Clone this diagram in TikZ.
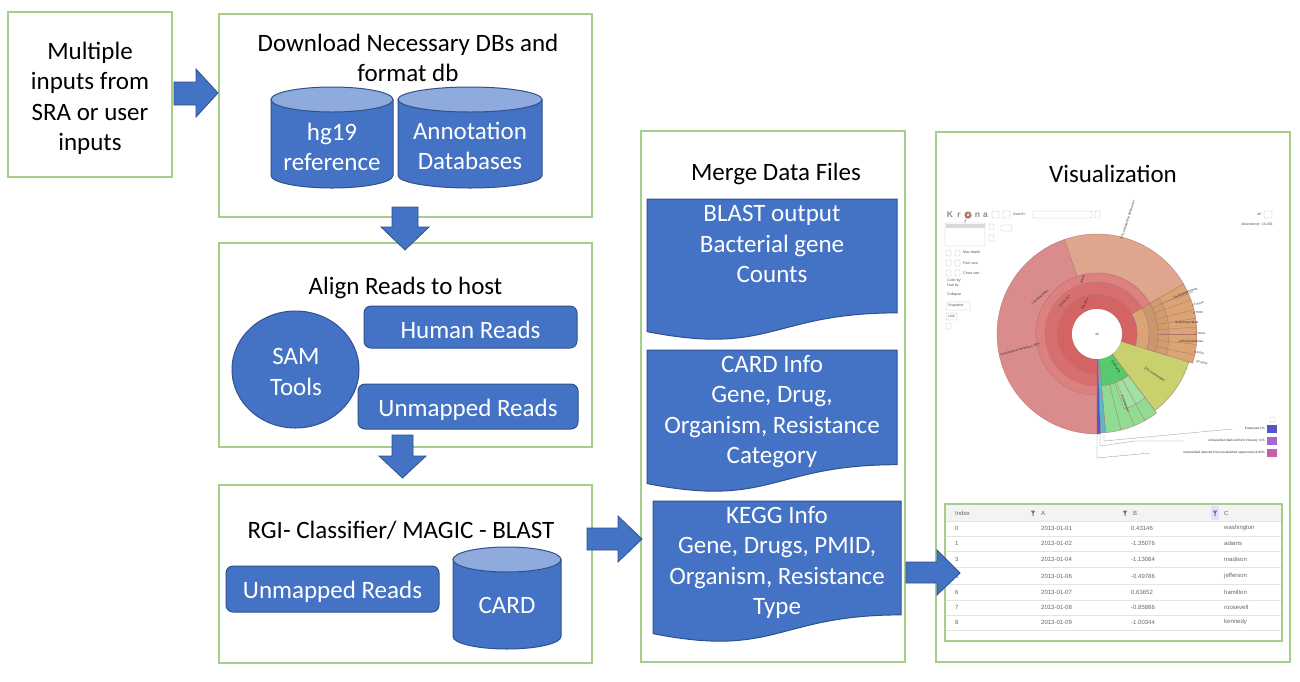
\documentclass[tikz,border=0pt]{standalone}
\usepackage{fontspec}
\usetikzlibrary{shapes.geometric}
\setmainfont{Carlito}
\newfontfamily\uifont{Liberation Sans}
\definecolor{oblue}{HTML}{4472C4}
\definecolor{bedge}{HTML}{2F528F}
\definecolor{ltop}{HTML}{8FAADC}
\definecolor{gline}{HTML}{A3CF8A}
\definecolor{uigray}{HTML}{555555}
\definecolor{tgray}{HTML}{666666}
\definecolor{hdrgray}{HTML}{F3F3F3}
\definecolor{rowline}{HTML}{E4E4E4}
\definecolor{kpink}{HTML}{DA8C8C}
\definecolor{kpeach}{HTML}{DEA68C}
\definecolor{korange}{HTML}{DAA474}
\definecolor{kyellow}{HTML}{C9D06E}
\definecolor{kgreenA}{HTML}{58C96C}
\definecolor{kgreenB}{HTML}{90DC92}
\definecolor{kblue}{HTML}{5656C8}
\definecolor{kteal}{HTML}{5AB8C8}
\definecolor{kredA}{HTML}{D46464}
\definecolor{kredB}{HTML}{D76F6F}
\definecolor{kredC}{HTML}{DC8080}
\definecolor{kline}{HTML}{B07070}
\definecolor{kpurple}{HTML}{A866CC}
\definecolor{kmag}{HTML}{C860B0}
\newcommand\dbcyl[5]{%
  \path[bluefill] (#1-#4,#2) -- (#1-#4,#3) arc[start angle=180,end angle=0,x radius=#4,y radius=#5] -- (#1+#4,#2) -- cycle;
  \path[bluefill,fill=ltop] (#1,#2) ellipse[x radius=#4,y radius=#5];}
\newcommand\docshape[4]{%
  \path[bluefill] (#1,#3) -- (#2,#3) -- (#2,{#3+0.802*#4}) .. controls ({(#1+#2)/2},{#3+0.802*#4}) and ({(#1+#2)/2},{#3+1.107*#4}) .. (#1,{#3+0.934*#4}) -- cycle;}
\newcommand\kann[5]{%
  \path[fill=#5,draw=kline,line width=0.3pt] (#1:#3) arc[start angle=#1,end angle=#2,radius=#3] -- (#2:#4) arc[start angle=#2,end angle=#1,radius=#4] -- cycle;}
\begin{document}
\begin{tikzpicture}[x=1pt,y=-1pt,
  greenbox/.style={draw=gline,line width=2pt,fill=white,inner sep=0pt},
  bluefill/.style={fill=oblue,draw=bedge,line width=1pt},
  ttl/.style={font=\fontsize{25}{30.5}\selectfont,align=center,inner sep=0pt,text=black},
  wtext/.style={font=\fontsize{25}{30.5}\selectfont,align=center,inner sep=0pt,text=white},
  rbox/.style={bluefill,rounded corners=7pt,inner sep=0pt},
  barrow/.style={fill=oblue,draw=bedge,line width=0.8pt},
  ui/.style={font=\uifont\fontsize{3.6}{4.2}\selectfont,text=uigray,inner sep=0pt},
  klab/.style={font=\uifont\fontsize{3.2}{4}\selectfont,text=black!80,inner sep=0pt},
  logo/.style={font=\uifont\bfseries\fontsize{8.5}{9}\selectfont,text=black!45,inner sep=0pt},
  tcell/.style={font=\uifont\fontsize{6}{7}\selectfont,text=tgray,inner sep=0pt,anchor=west},
  uibox/.style={draw=black!25,line width=0.3pt,fill=white,rounded corners=0.8pt},
]
\useasboundingbox (0,0) rectangle (1300,681);
\fill[white] (0,0) rectangle (1300,681);

% ---------- green frames ----------
\node[greenbox,minimum width=164pt,minimum height=165pt] (inbox) at (90,94.5) {};
\node[greenbox,minimum width=373pt,minimum height=203pt] (dlbox) at (405.5,115.5) {};
\node[greenbox,minimum width=373pt,minimum height=204pt] (alnbox) at (405.5,345) {};
\node[greenbox,minimum width=373pt,minimum height=178pt] (rgibox) at (405.5,574) {};
\node[greenbox,minimum width=264pt,minimum height=531pt] (mrgbox) at (773,396.5) {};
\node[greenbox,minimum width=354pt,minimum height=530pt] (visbox) at (1113,397) {};

% ---------- input ----------
\node[ttl] (intext) at (90,98.5) {Multiple\\inputs from\\SRA or user\\inputs};

% ---------- download box ----------
\node[ttl] (dltitle) at (408,58) {Download Necessary DBs and\\format db};
\dbcyl{332}{99.5}{175.5}{61}{12.5}
\dbcyl{470}{99.5}{175.5}{72}{12.5}
\node[wtext] (hg) at (332,147) {hg19\\reference};
\node[wtext] (annot) at (470,146) {Annotation\\Databases};

% ---------- align box ----------
\node[ttl] (alntitle) at (405.5,288) {Align Reads to host};
\node[bluefill,ellipse,minimum width=127pt,minimum height=117pt,inner sep=0pt] (sam) at (295.5,369.5) {};
\node[wtext] (samtext) at (296,372) {SAM\\Tools};
\node[rbox,minimum width=213pt,minimum height=42pt] (human) at (470.5,327) {};
\node[wtext] (humantext) at (470.5,329.5) {Human Reads};
\node[rbox,minimum width=220pt,minimum height=45pt] (unm1) at (468,406.5) {};
\node[wtext] (unm1text) at (468,410) {Unmapped Reads};

% ---------- RGI box ----------
\node[ttl] (rgititle) at (401,530) {RGI- Classifier/ MAGIC - BLAST};
\node[rbox,minimum width=213pt,minimum height=46pt] (unm2) at (332.5,589) {};
\node[wtext] (unm2text) at (332.5,592) {Unmapped Reads};
\dbcyl{507}{559.5}{636.5}{54}{12.5}
\node[wtext] (card) at (507,605) {CARD};

% ---------- merge box ----------
\node[ttl] (mrgtitle) at (776,174) {Merge Data Files};
\docshape{647}{897}{199}{142}
\docshape{647}{897}{350}{143}
\docshape{653}{901}{501}{142}
\node[wtext] (blast) at (772,244) {BLAST output\\Bacterial gene\\Counts};
\node[wtext] (cardinfo) at (772,411.5) {CARD Info\\Gene, Drug,\\Organism, Resistance\\Category};
\node[wtext] (kegg) at (777,562.5) {KEGG Info\\Gene, Drugs, PMID,\\Organism, Resistance\\Type};

% ---------- visualization box ----------
\node[ttl] (vistitle) at (1113,174) {Visualization};

% Krona toolbar
\node[logo] (kK) at (950,215) {K};
\node[logo] (kR) at (959,215.5) {r};
\fill[kredA] (968,215) circle (3.6);
\fill[kgreenA] (968,215) -- (968+3.6,215) arc[start angle=0,end angle=-110,radius=3.6] -- cycle;
\fill[kblue!80] (968,215) -- (968-1.23,215+3.38) arc[start angle=-110,end angle=-200,radius=3.6] -- cycle;
\fill[white] (968,215) circle (1.2);
\node[logo] (kN) at (977.5,215.5) {n};
\node[logo] (kA) at (985.5,215.5) {a};
\draw[uibox] (992,211) rectangle (999,218);
\draw[uibox] (1003,211) rectangle (1010,218);
\node[ui,anchor=west] (search) at (1013,214.5) {Search:};
\draw[uibox] (1033,211) rectangle (1092,218);
\draw[uibox] (1095,211) rectangle (1100,218);
\draw[uibox] (945,223) rectangle (985,246);
\fill[black!15] (945.5,223.5) rectangle (984.5,228);
\draw[uibox] (989,224) rectangle (994,230);
\draw[uibox] (1001,225) rectangle (1012,231);
\draw[uibox] (989,235) rectangle (994,241);
\draw[uibox] (946,250) rectangle (951,256);
\draw[uibox] (955,250) rectangle (960,256);
\node[ui,anchor=west] (maxd) at (963,253) {Max depth};
\draw[uibox] (946,260) rectangle (951,266);
\draw[uibox] (955,260) rectangle (960,266);
\node[ui,anchor=west] (fonts) at (963,263) {Font size};
\draw[uibox] (946,270) rectangle (951,276);
\draw[uibox] (955,270) rectangle (960,276);
\node[ui,anchor=west] (charts) at (963,273.5) {Chart size};
\node[ui,anchor=west,align=left] (colorby) at (947,283) {Color by\\Hue by};
\node[ui,anchor=west] (collapse) at (947,295) {Collapse};
\draw[uibox] (946,302) rectangle (970,310);
\node[ui,anchor=west] (snap) at (948,306) {Snapshot};
\draw[uibox] (946,313) rectangle (957,320);
\node[ui,anchor=west] (link) at (948,316.5) {Link};
\draw[uibox] (946,323) rectangle (951,329);
\node[ui,anchor=east] (allsel) at (1261,214.5) {all};
\draw[uibox] (1264,211) rectangle (1272,218);
\node[ui,anchor=east] (abund) at (1273,224) {Abundance: 10,401};

% Krona chart
\begin{scope}[shift={(1097,334)},yscale=-1]
  \kann{109}{270}{61}{100}{kpink}
  \kann{30}{109}{61}{100}{kpeach}
  \kann{-17}{30}{40}{100}{korange}
  \kann{-53}{-17}{25}{96}{kyellow}
  \kann{-85}{-53}{25}{52}{kgreenA}
  \kann{-85}{-53}{52}{99}{kgreenB}
  \kann{-88}{-85}{25}{99}{kteal}
  \kann{-90}{-88}{25}{100}{kblue}
  \kann{-17}{270}{25}{40}{kredA}
  \kann{30}{270}{40}{52}{kredB}
  \kann{30}{270}{52}{61}{kredC}
  \kann{-70}{-53}{52}{80}{kgreenB!85!white}
  \kann{-17}{30}{52}{61}{korange!92!black}
  \kann{-17}{30}{61}{72}{korange!96!black}
  \foreach \a in {-12,-6,0,4,9,14,20,25}{\draw[kline,line width=0.3pt] (\a:61) -- (\a:100);}
  \foreach \a in {-76,-68,-61}{\draw[kline,line width=0.3pt] (\a:52) -- (\a:99);}
  \fill[white] (0,0) circle (25);
  \node[klab] (kall) at (0,0) {all};
  \node[klab,rotate=60] (kbact) at (112:32.5) {Bacteria};
  \node[klab,rotate=48] (kfirm) at (135:46) {Firmicutes};
  \node[klab,rotate=70] (kbac) at (105:56.5) {Bacilli};
  \node[klab,rotate=40] (klacto) at (147:68) {Lactobacillales};
  \node[klab,rotate=-35] (kunc) at (-35:70) {10\%  unclassified};
  \node[klab,rotate=-58] (kgr1) at (-60:38) {Eukaryota};
  \node[klab,rotate=-68] (kgr2) at (-68:75) {2\%  Metazoa};
  \node[klab,rotate=72] (kpeachlab) at (75:118) {2\%  Lactobacillus delbrueckii};
  \node[klab,rotate=15,anchor=east] (khelv) at (190:58) {Lactobacillus helveticus  46\%};
\end{scope}
% Krona right-hand labels
\draw[black!50,line width=0.3pt] (1160,304) -- (1193,292);
\node[klab,anchor=west,rotate=22] (kr1) at (1173,298) {1\%  Actinobacteria};
\node[klab,anchor=west,rotate=12] (kr2) at (1192,305) {13 more};
\node[klab,anchor=west,rotate=6] (kr3) at (1193,313) {6 more};
\node[klab,anchor=west] (kr4) at (1175,323) {Actinomycetales};
\node[klab,anchor=west] (kr5) at (1195,333) {7 more};
\node[klab,anchor=west] (kr6) at (1180,341) {1\%  Clostridiales};
\node[klab,anchor=west,rotate=-8] (kr7) at (1194,352) {5 more};
\node[klab,anchor=west,rotate=-14] (kr8) at (1196,361) {24 more};
\draw[black!50,line width=0.3pt] (1178,341) -- (1196,341);
% legend
\draw[black!45,line width=0.3pt] (1104,433) -- (1104,441) -- (1232,429);
\draw[black!45,line width=0.3pt] (1100,433) -- (1100,446) -- (1135,441) -- (1183,441);
\draw[black!45,line width=0.3pt] (1097,433) -- (1097,458) -- (1150,453);
\node[klab,anchor=east] (leg1) at (1265,429) {Eukaryota  1\%};
\node[klab,anchor=east] (leg2) at (1265,441) {unclassified (derived from Viruses)  <1\%};
\node[klab,anchor=east] (leg3) at (1265,453) {unclassified (derived from unclassified sequences)  9.02\%};
\draw[uibox] (1270,417) rectangle (1275,422);
\fill[kblue] (1267,425) rectangle (1277,433);
\fill[kpurple] (1267,437) rectangle (1277,445);
\fill[kmag] (1267,449) rectangle (1277,457);

% data table
\fill[hdrgray] (946,505) rectangle (1281,521);
\fill[blue!12] (1211,506) rectangle (1219,520);
\foreach \y in {536,551,567,584,600,615,630}{\draw[rowline,line width=0.5pt] (946,\y) -- (1281,\y);}
\draw[rowline,line width=0.5pt] (946,521) -- (1281,521);
\node[tcell] (hidx) at (955,513) {Index};
\node[tcell] (hA) at (1041,513) {A};
\node[tcell] (hB) at (1133,513) {B};
\node[tcell] (hC) at (1224,513) {C};
\foreach \x in {1033,1125,1215}{\fill[black!55] (\x-2.2,510.5) -- (\x+2.2,510.5) -- (\x+0.5,513.5) -- (\x+0.5,516) -- (\x-0.5,516) -- (\x-0.5,513.5) -- cycle;}
\foreach \y/\i/\d/\v/\n in {528/0/2013-01-01/0.43146/washington,543/1/2013-01-02/-1.35076/adams,559/3/2013-01-04/-1.13084/madison,576/5/2013-01-06/-0.49786/jefferson,592/6/2013-01-07/0.63652/hamilton,607/7/2013-01-08/-0.85886/roosevelt,622/8/2013-01-09/-1.00344/kennedy}{
  \node[tcell] at (955,\y) {\i};
  \node[tcell] at (1041,\y) {\d};
  \node[tcell] at (1131,\y) {\v};
  \node[tcell] at (1224,\y) {\n};
}
\draw[gline,line width=1.6pt] (945,504) rectangle (1282,641);

% ---------- block arrows ----------
\path[barrow] (174,82) -- (196,82) -- (196,69) -- (218,93) -- (196,117) -- (196,105) -- (174,105) -- cycle;
\path[barrow] (392,207) -- (418,207) -- (418,227) -- (429,227) -- (405,250) -- (381,227) -- (392,227) -- cycle;
\path[barrow] (392,435) -- (413,435) -- (413,456) -- (426,456) -- (402.5,478) -- (379,456) -- (392,456) -- cycle;
\path[barrow] (587,528) -- (618,528) -- (618,516) -- (642,539) -- (618,562) -- (618,550) -- (587,550) -- cycle;
\path[barrow] (906,562) -- (937,562) -- (937,550) -- (960,573) -- (937,595) -- (937,583) -- (906,583) -- cycle;
\end{tikzpicture}
\end{document}
